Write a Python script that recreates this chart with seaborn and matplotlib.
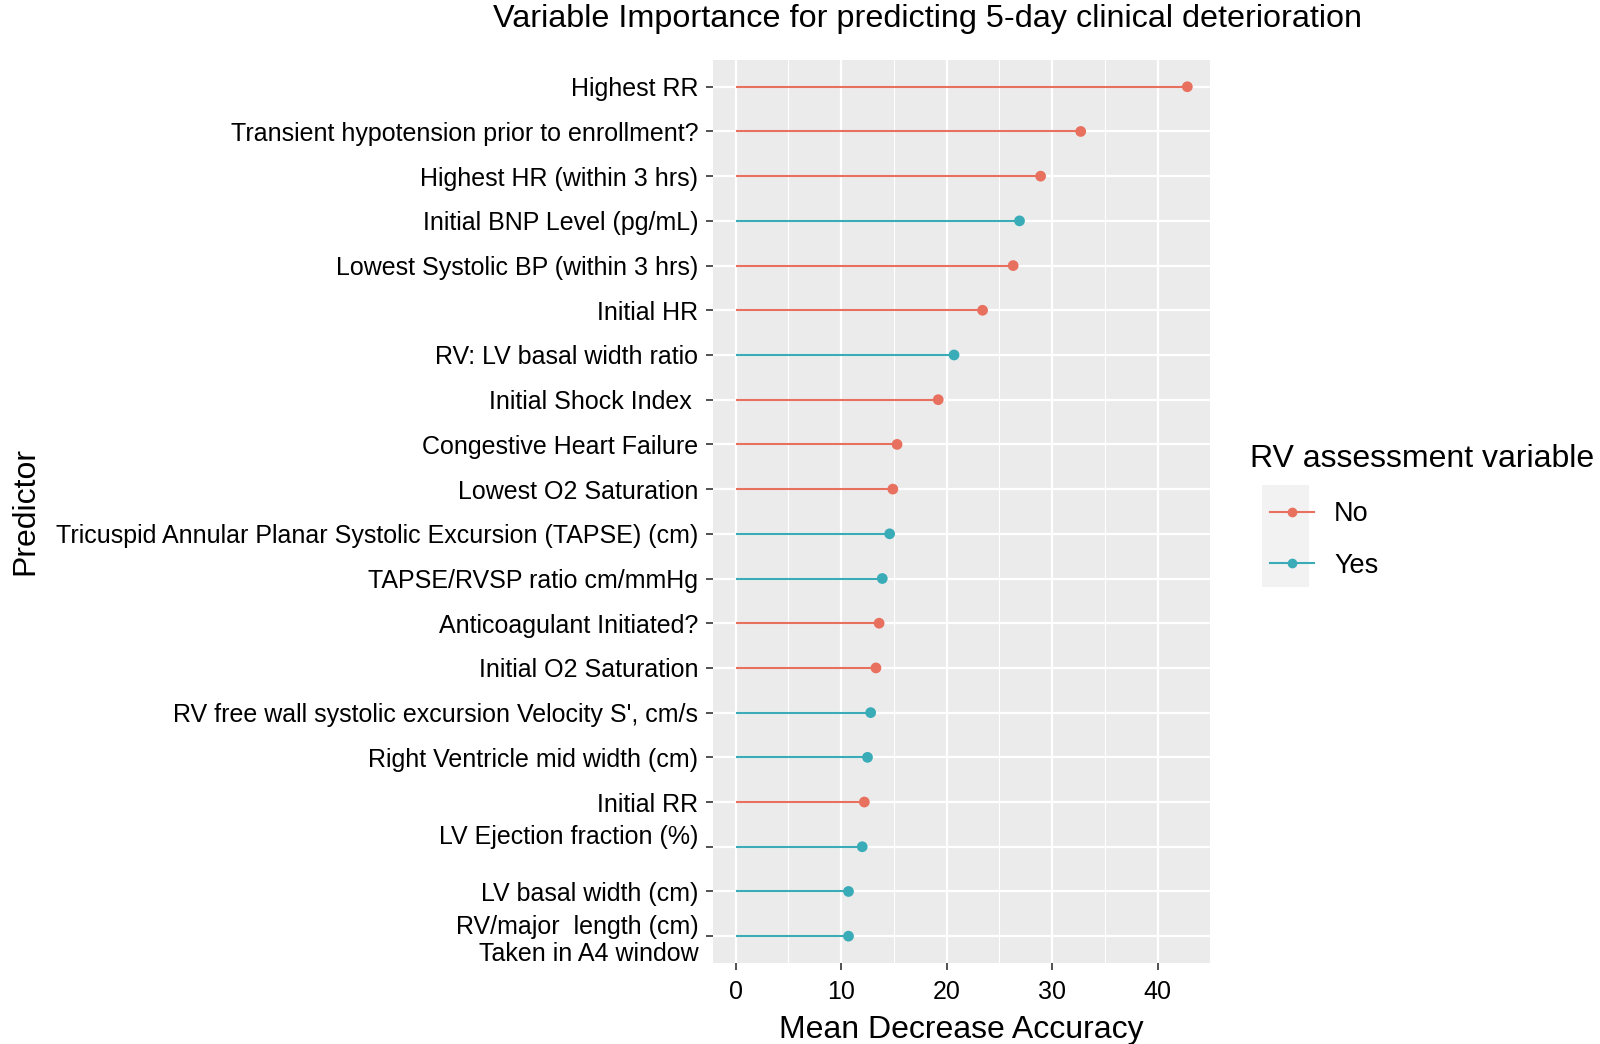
import numpy as np
import pandas as pd
import matplotlib
matplotlib.use('Agg')
import matplotlib.pyplot as plt
from matplotlib.lines import Line2D
from matplotlib.patches import Rectangle
import seaborn as sns

# data, top to bottom as in the chart
predictors = [
    "Highest RR",
    "Transient hypotension prior to enrollment?",
    "Highest HR (within 3 hrs)",
    "Initial BNP Level (pg/mL)",
    "Lowest Systolic BP (within 3 hrs)",
    "Initial HR",
    "RV: LV basal width ratio",
    "Initial Shock Index ",
    "Congestive Heart Failure",
    "Lowest O2 Saturation",
    "Tricuspid Annular Planar Systolic Excursion (TAPSE) (cm)",
    "TAPSE/RVSP ratio cm/mmHg",
    "Anticoagulant Initiated?",
    "Initial O2 Saturation",
    "RV free wall systolic excursion Velocity S', cm/s",
    "Right Ventricle mid width (cm)",
    "Initial RR",
    "LV Ejection fraction (%)\n ",
    "LV basal width (cm)",
    "RV/major  length (cm)\nTaken in A4 window",
]
mda = [42.8, 32.7, 28.9, 26.9, 26.3, 23.4, 20.7, 19.2, 15.3, 14.9,
       14.6, 13.9, 13.6, 13.3, 12.8, 12.5, 12.2, 12.0, 10.7, 10.7]
rv_var = ["No", "No", "No", "Yes", "No", "No", "Yes", "No", "No", "No",
          "Yes", "Yes", "No", "No", "Yes", "Yes", "No", "Yes", "Yes", "Yes"]

palette = {"No": "#E8705F", "Yes": "#3AACB8"}

df = pd.DataFrame({'predictor': predictors, 'mda': mda, 'rv': rv_var})
df['pos'] = np.arange(len(df))

plt.rcParams['font.family'] = ['Liberation Sans', 'DejaVu Sans']

fig = plt.figure(figsize=(16, 10.44), dpi=100)
ax = fig.add_axes([0.4456, 0.0776, 0.3106, 0.865])
ax.set_facecolor('#EBEBEB')

# stems
for key, sub in df.groupby('rv'):
    ax.hlines(sub['pos'], 0, sub['mda'], color=palette[key], lw=1.5, zorder=2)
# points
sns.scatterplot(data=df, x='mda', y='pos', hue='rv', palette=palette, s=60,
                edgecolor='none', legend=False, ax=ax, zorder=3)

xmax = df['mda'].max()
ax.set_xlim(-0.05 * xmax, 1.05 * xmax)
ax.set_ylim(len(df) - 0.4, -0.6)
ax.set_xticks([0, 10, 20, 30, 40])
ax.set_xticks([5, 15, 25, 35], minor=True)
ax.set_yticks(df['pos'])
ax.set_yticklabels(df['predictor'])
ax.grid(which='major', color='white', lw=1.6, zorder=0)
ax.grid(which='minor', axis='x', color='white', lw=0.8, zorder=0)
ax.set_axisbelow(True)
for s in ax.spines.values():
    s.set_visible(False)
ax.tick_params(axis='both', which='major', length=5, width=1.2, color='#333333',
               labelsize=18, labelcolor='black', pad=5.5)
ax.tick_params(axis='x', which='major', pad=7)
ax.tick_params(axis='x', which='minor', length=0)

ax.set_xlabel('Mean Decrease Accuracy', fontsize=23, labelpad=8)
ax.set_ylabel('Predictor', fontsize=23)
ax.yaxis.set_label_coords(-1.354, 0.5)

fig.text(0.58, 0.982, 'Variable Importance for predicting 5-day clinical deterioration',
         ha='center', va='center', fontsize=23.3)

# legend
fig.text(0.781, 0.560, 'RV assessment variable', ha='left', va='center', fontsize=23)
fig.patches.append(Rectangle((0.789, 0.438), 0.029, 0.097, transform=fig.transFigure,
                             facecolor='#F2F2F2', edgecolor='none'))
handles = [Line2D([0], [0], color=palette[k], lw=1.5, marker='o', markersize=7,
                  markeredgewidth=0) for k in ["No", "Yes"]]
leg = fig.legend(handles, ["No", "Yes"], loc='upper left',
                 bbox_to_anchor=(0.794, 0.520), frameon=False, borderpad=0,
                 fontsize=19.5, handlelength=1.6, labelspacing=0.95,
                 handletextpad=0.75, borderaxespad=0)

fig.savefig('out.png', dpi=100)
